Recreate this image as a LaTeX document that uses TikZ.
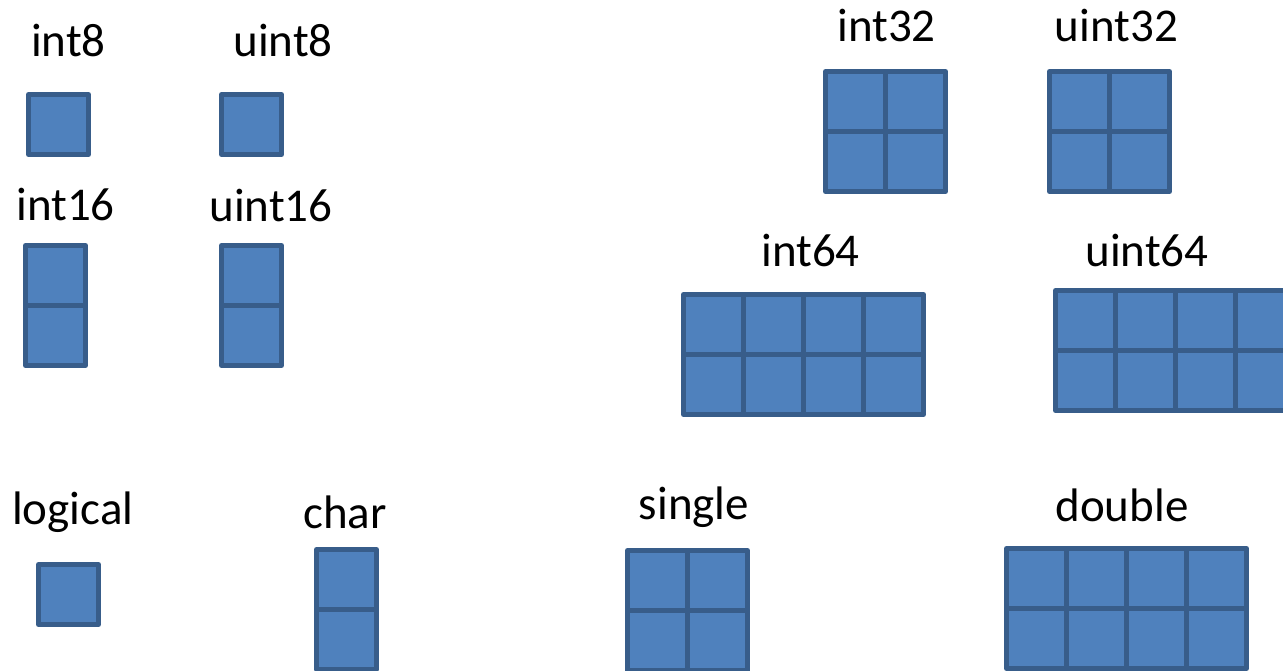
\documentclass[tikz,border=0pt]{standalone}
\usepackage{fontspec}
\setmainfont{Carlito}
\definecolor{cellblue}{RGB}{79,129,189}
\definecolor{celledge}{RGB}{56,93,138}

\begin{document}
\begin{tikzpicture}[x=1pt,y=1pt,line join=round,
  cellgrid/.style={fill=cellblue,draw=celledge,line width=5pt,step=60},
  lbl/.style={anchor=base,inner sep=0pt,font=\fontsize{47}{51}\selectfont}]
\clip (0,0) rectangle (1283,670);
% top left
\coordinate (int8) at (28.5,575.5);
\coordinate (uint8) at (221.5,575.5);
\coordinate (int16) at (25.5,424.5);
\coordinate (uint16) at (221.5,424.5);
\filldraw[cellgrid,shift={(int8)}] (0,0) rectangle (60,-60) (0,0) grid (60,-60);
\filldraw[cellgrid,shift={(uint8)}] (0,0) rectangle (60,-60) (0,0) grid (60,-60);
\filldraw[cellgrid,shift={(int16)}] (0,0) rectangle (60,-120) (0,0) grid (60,-120);
\filldraw[cellgrid,shift={(uint16)}] (0,0) rectangle (60,-120) (0,0) grid (60,-120);
\node[lbl] (lint8) at (68.4,613.3) {int8};
\node[lbl] (luint8) at (283,613.3) {uint8};
\node[lbl] (lint16) at (65.5,449) {int16};
\node[lbl] (luint16) at (271,448) {uint16};
% top right
\coordinate (int32) at (825.5,598.5);
\coordinate (uint32) at (1049.5,598.5);
\coordinate (int64) at (683.5,375.5);
\coordinate (uint64) at (1055.5,379.5);
\filldraw[cellgrid,shift={(int32)}] (0,0) rectangle (120,-120) (0,0) grid (120,-120);
\filldraw[cellgrid,shift={(uint32)}] (0,0) rectangle (120,-120) (0,0) grid (120,-120);
\filldraw[cellgrid,shift={(int64)}] (0,0) rectangle (240,-120) (0,0) grid (240,-120);
\filldraw[cellgrid,shift={(uint64)}] (0,0) rectangle (240,-120) (0,0) grid (240,-120);
\node[lbl] (lint32) at (886.5,628) {int32};
\node[lbl] (luint32) at (1116.5,628) {uint32};
\node[lbl] (lint64) at (810.5,403.3) {int64};
\node[lbl] (luint64) at (1147,403.3) {uint64};
% bottom row
\coordinate (logical) at (38.5,105.5);
\coordinate (char) at (316.5,120.5);
\coordinate (single) at (627.5,119.5);
\coordinate (double) at (1006.5,121.5);
\filldraw[cellgrid,shift={(logical)}] (0,0) rectangle (60,-60) (0,0) grid (60,-60);
\filldraw[cellgrid,shift={(char)}] (0,0) rectangle (60,-120) (0,0) grid (60,-120);
\filldraw[cellgrid,shift={(single)}] (0,0) rectangle (120,-120) (0,0) grid (120,-120);
\filldraw[cellgrid,shift={(double)}] (0,0) rectangle (240,-120) (0,0) grid (240,-120);
\node[lbl] (llogical) at (72.7,146) {logical};
\node[lbl] (lchar) at (345,141.7) {char};
\node[lbl] (lsingle) at (694,150) {single};
\node[lbl] (ldouble) at (1122,148.3) {double};
\end{tikzpicture}
\end{document}
